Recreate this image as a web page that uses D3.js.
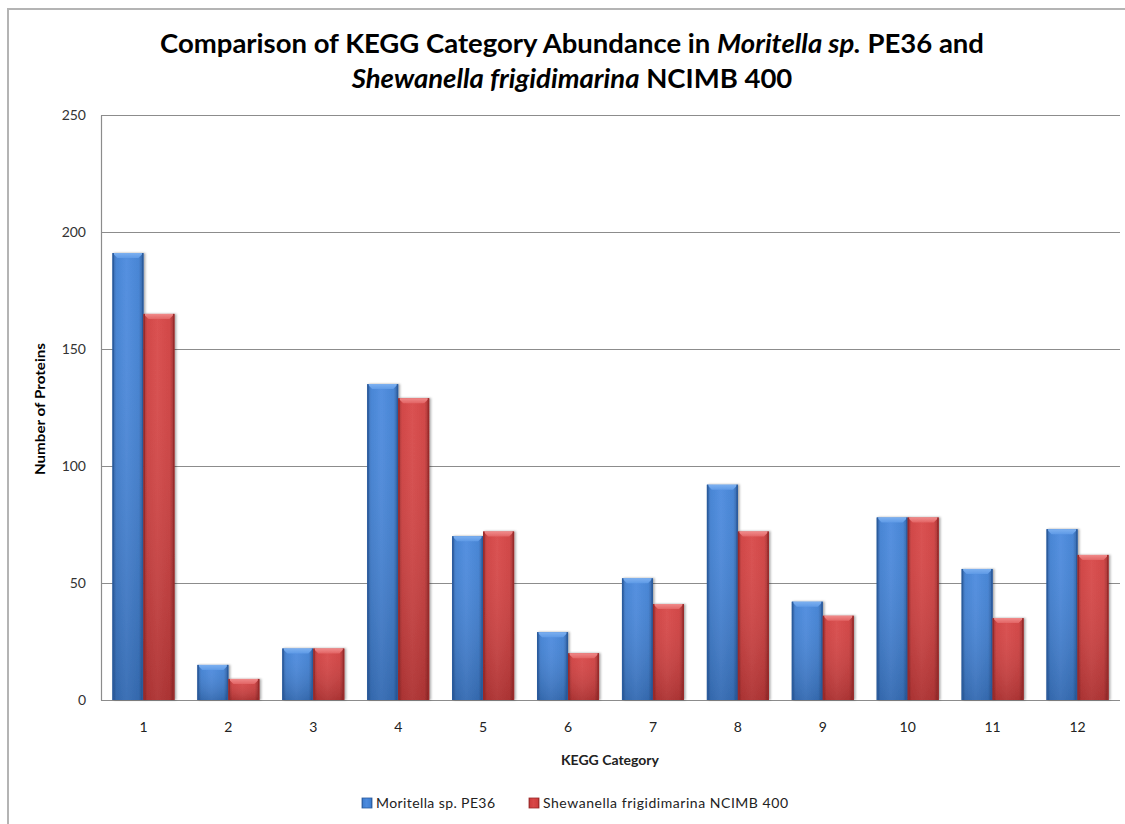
<!DOCTYPE html>
<html>
<head>
<meta charset="utf-8">
<script src="https://cdn.jsdelivr.net/npm/d3@7"></script>
<style>
  html, body { margin: 0; padding: 0; background: #fff; }
  svg { display: block; font-family: Lato, "Open Sans", sans-serif; }
</style>
</head>
<body>
<svg id="chart" width="1125" height="824"></svg>
<script>
// KEGG category counts for the two organisms
const categories = ["1","2","3","4","5","6","7","8","9","10","11","12"];
const moritella  = [191, 15, 22, 135, 70, 29, 52, 92, 42, 78, 56, 73];
const shewanella = [165, 9, 22, 129, 72, 20, 41, 72, 36, 78, 35, 62];
const seriesNames = ["Moritella sp. PE36", "Shewanella frigidimarina NCIMB 400"];
const yTicks = [0, 50, 100, 150, 200, 250];

const svg = d3.select("#chart");
const W = 1125, H = 824;
const plot = { left: 101, right: 1120, top: 115, bottom: 700 };

// Outer chart frame (left and top edges visible)
svg.append("path")
  .attr("d", `M8,${H} L8,9 L${W},9`)
  .attr("fill", "none").attr("stroke", "#b4b4b4").attr("stroke-width", 2);

// Title with italic species names
const title = svg.append("text").attr("text-anchor", "middle")
  .attr("font-size", 27.5).attr("font-weight", "bold").attr("fill", "#000");
const l1 = title.append("tspan").attr("x", 572).attr("y", 53);
l1.append("tspan").text("Comparison of KEGG Category Abundance in ");
l1.append("tspan").attr("font-style", "italic").text("Moritella sp.");
l1.append("tspan").text(" PE36 and");
const l2 = title.append("tspan").attr("x", 572).attr("y", 88);
l2.append("tspan").attr("font-style", "italic").text("Shewanella frigidimarina");
l2.append("tspan").text(" NCIMB 400");

// Scales
const x0 = d3.scaleBand().domain(categories)
  .range([plot.left, plot.right]).paddingInner(0.27).paddingOuter(0.135);
const x1 = d3.scaleBand().domain([0, 1]).range([0, x0.bandwidth()]);
const y = d3.scaleLinear().domain([0, 250]).range([plot.bottom, plot.top]);

// Gridlines
svg.append("g").selectAll("line").data(yTicks).join("line")
  .attr("x1", plot.left).attr("x2", plot.right)
  .attr("y1", d => y(d) + 0.5).attr("y2", d => y(d) + 0.5)
  .attr("stroke", "#8c8c8c").attr("stroke-width", 1.2);

// Y axis
const yAxis = svg.append("g").attr("transform", `translate(${plot.left},0)`)
  .call(d3.axisLeft(y).tickValues(yTicks).tickSize(0).tickPadding(15));
yAxis.select(".domain").attr("stroke", "#8c8c8c").attr("stroke-width", 1.2);
yAxis.selectAll("text").attr("font-size", 14).attr("fill", "#333")
  .attr("font-family", "Lato, sans-serif");

// X axis
const xAxis = svg.append("g").attr("transform", `translate(0,${plot.bottom})`)
  .call(d3.axisBottom(x0).tickSize(0).tickPadding(22));
xAxis.select(".domain").remove();
xAxis.selectAll("text").attr("font-size", 14).attr("fill", "#222")
  .attr("font-family", "Lato, sans-serif");

// Axis titles
svg.append("text").attr("transform", "translate(45,409) rotate(-90)")
  .attr("text-anchor", "middle").attr("font-size", 12.5).attr("font-weight", "bold")
  .attr("fill", "#000").attr("textLength", 132).attr("lengthAdjust", "spacingAndGlyphs")
  .text("Number of Proteins");
svg.append("text").attr("x", 610).attr("y", 765)
  .attr("text-anchor", "middle").attr("font-size", 14).attr("font-weight", "bold")
  .attr("fill", "#222").text("KEGG Category");

// Gradients for bevelled bars
const defs = svg.append("defs");
const palettes = [
  { dark: "#2a5b9e", mid: "#3f7fd2", light: "#4b8ade", top: "#7cb0f0", topEdge: "#5f9ae6" },
  { dark: "#9a2a2a", mid: "#cf3e3e", light: "#d84848", top: "#f08a8a", topEdge: "#e26464" }
];
palettes.forEach((p, i) => {
  const gh = defs.append("linearGradient").attr("id", "gh" + i)
    .attr("x1", 0).attr("x2", 1).attr("y1", 0).attr("y2", 0);
  gh.append("stop").attr("offset", "0%").attr("stop-color", p.dark);
  gh.append("stop").attr("offset", "12%").attr("stop-color", p.mid);
  gh.append("stop").attr("offset", "45%").attr("stop-color", p.light);
  gh.append("stop").attr("offset", "85%").attr("stop-color", p.mid);
  gh.append("stop").attr("offset", "100%").attr("stop-color", p.dark);
  const gv = defs.append("linearGradient").attr("id", "gv" + i)
    .attr("x1", 0).attr("x2", 0).attr("y1", 0).attr("y2", 1);
  gv.append("stop").attr("offset", "0%").attr("stop-color", "#fff").attr("stop-opacity", 0.05);
  gv.append("stop").attr("offset", "100%").attr("stop-color", "#000").attr("stop-opacity", 0.18);
  const gt = defs.append("linearGradient").attr("id", "gt" + i)
    .attr("x1", 0).attr("x2", 0).attr("y1", 0).attr("y2", 1);
  gt.append("stop").attr("offset", "0%").attr("stop-color", p.top);
  gt.append("stop").attr("offset", "100%").attr("stop-color", p.topEdge);
});
const shadow = defs.append("filter").attr("id", "shadow")
  .attr("x", "-20%").attr("y", "-5%").attr("width", "140%").attr("height", "110%");
shadow.append("feDropShadow").attr("dx", 1.5).attr("dy", 0).attr("stdDeviation", 1.2)
  .attr("flood-color", "#000").attr("flood-opacity", 0.35);

// Bars
const rows = categories.map((c, i) => ({ cat: c, vals: [moritella[i], shewanella[i]] }));
const groups = svg.append("g").selectAll("g").data(rows).join("g")
  .attr("transform", d => `translate(${x0(d.cat)},0)`);
const bars = groups.selectAll("g").data(d => d.vals.map((v, s) => ({ v, s }))).join("g")
  .attr("filter", "url(#shadow)");
const bw = x1.bandwidth();
bars.append("rect")
  .attr("x", d => x1(d.s)).attr("y", d => y(d.v))
  .attr("width", bw).attr("height", d => y(0) - y(d.v))
  .attr("fill", d => `url(#gh${d.s})`);
bars.append("rect")
  .attr("x", d => x1(d.s)).attr("y", d => y(d.v))
  .attr("width", bw).attr("height", d => y(0) - y(d.v))
  .attr("fill", d => `url(#gv${d.s})`);
// Top bevel
const bev = 5;
bars.append("path")
  .attr("d", d => {
    const xl = x1(d.s), xr = xl + bw, yt = y(d.v);
    return `M${xl},${yt} L${xr},${yt} L${xr - bev},${yt + bev} L${xl + bev},${yt + bev} Z`;
  })
  .attr("fill", d => `url(#gt${d.s})`);
// Side bevel edges
bars.append("rect")
  .attr("x", d => x1(d.s)).attr("y", d => y(d.v))
  .attr("width", 1.5).attr("height", d => y(0) - y(d.v))
  .attr("fill", d => palettes[d.s].dark);
bars.append("rect")
  .attr("x", d => x1(d.s) + bw - 1.5).attr("y", d => y(d.v))
  .attr("width", 1.5).attr("height", d => y(0) - y(d.v))
  .attr("fill", d => palettes[d.s].dark);

// Legend
const legendItems = [{ x: 362, s: 0, w: 119 }, { x: 529, s: 1, w: 245 }];
const legend = svg.append("g").selectAll("g").data(legendItems).join("g")
  .attr("transform", d => `translate(${d.x},798)`);
legend.append("rect").attr("width", 10).attr("height", 10)
  .attr("fill", d => `url(#gh${d.s})`).attr("stroke", d => palettes[d.s].dark).attr("stroke-width", 0.8);
legend.append("text").attr("x", 14).attr("y", 10)
  .attr("font-size", 14).attr("fill", "#222")
  .attr("textLength", d => d.w).attr("lengthAdjust", "spacing")
  .text(d => seriesNames[d.s]);
</script>
</body>
</html>
